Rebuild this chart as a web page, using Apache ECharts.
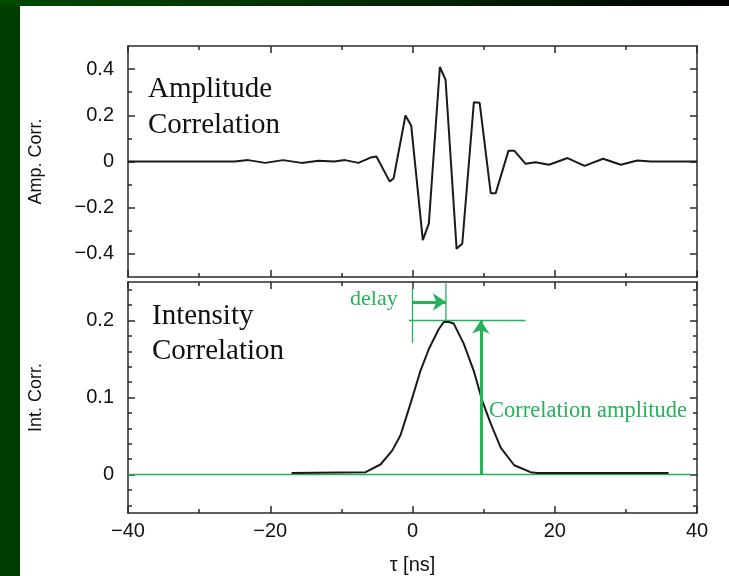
<!DOCTYPE html>
<html>
<head>
<meta charset="utf-8">
<script src="https://cdn.jsdelivr.net/npm/echarts@6/dist/echarts.min.js"></script>
<style>html,body{margin:0;padding:0;background:#fff}#c{width:729px;height:576px}</style>
</head>
<body>
<div id="c"></div>
<script>
// ---- data ----
const ampTau = [-40, -25, -23.1, -20.7, -18.2, -15.6, -13.2, -11, -9.5, -7.6, -5.9, -5.07, -3.2, -2.65, -0.99, -0.18, 1.45, 2.3, 3.85, 4.65, 6.2, 7.0, 8.63, 9.44, 11.0, 11.7, 13.5, 14.3, 15.9, 17.3, 19.2, 21.8, 24.2, 26.8, 29.3, 31.6, 33.5, 40];
const ampVal = [0, 0, 0.006, -0.006, 0.006, -0.006, 0.003, 0.0, 0.006, -0.006, 0.017, 0.022, -0.087, -0.072, 0.199, 0.155, -0.34, -0.268, 0.409, 0.353, -0.378, -0.355, 0.257, 0.254, -0.137, -0.137, 0.047, 0.047, -0.01, -0.003, -0.014, 0.015, -0.019, 0.012, -0.014, 0.004, 0, 0];
const intTau = [-17, -6.6, -4.5, -2.86, -1.69, -0.28, 1.13, 2.3, 3.7, 4.4, 5.1, 5.8, 7.2, 8.6, 9.8, 11.0, 12.4, 14.3, 16.6, 17.6, 36];
const intVal = [0.002, 0.003, 0.013, 0.031, 0.051, 0.092, 0.135, 0.163, 0.189, 0.198, 0.198, 0.196, 0.170, 0.135, 0.096, 0.066, 0.035, 0.012, 0.003, 0.002, 0.002];

// tick values
const xMajor = [-40, -20, 0, 20, 40];
const xMinor = [-30, -10, 10, 30];
const ampMajor = [-0.4, -0.2, 0, 0.2, 0.4];
const ampMinor = [-0.3, -0.1, 0.1, 0.3];
const intMajor = [0, 0.1, 0.2];
const intMinor = [-0.04, -0.02, 0.02, 0.04, 0.06, 0.08, 0.12, 0.14, 0.16, 0.18, 0.22, 0.24];

// annotation values (data units)
const delayValue = 4.7;
const delayArrowLevel = 0.224;
const corrAmplitude = 0.2;
const ampArrowTau = 9.6;

// ---- helpers ----
const GREEN = '#24b35a';
const FRAME = '#2a2a2a';
function fmt(v) { return v < 0 ? '\u2212' + Math.abs(v) : String(v); }

function axis(grid, pos, min, max, ticks, major, labelMargin, extra) {
  const a = {
    type: 'value', gridIndex: grid, position: pos, min: min, max: max,
    splitLine: { show: false },
    axisLine: { show: major, onZero: false, lineStyle: { color: FRAME, width: 1.5 } },
    axisTick: { show: true, inside: true, length: major ? 7 : 4, customValues: ticks,
                lineStyle: { color: FRAME, width: 1.5 } },
    axisLabel: labelMargin != null ? { show: true, customValues: ticks, formatter: fmt,
                fontFamily: 'Liberation Sans', fontSize: 20, color: '#111', margin: labelMargin } : { show: false },
    minorTick: { show: false }
  };
  return Object.assign(a, extra || {});
}

const nameStyle = { fontFamily: 'Liberation Sans', fontSize: 18, color: '#111' };
const xAxes = [
  axis(0, 'bottom', -40, 40, xMajor, true, null),
  axis(0, 'bottom', -40, 40, xMinor, false, null),
  axis(0, 'top', -40, 40, xMajor, true, null),
  axis(0, 'top', -40, 40, xMinor, false, null),
  axis(1, 'bottom', -40, 40, xMajor, true, 8, {
    name: '\u03c4 [ns]', nameLocation: 'middle', nameGap: 42,
    nameTextStyle: { fontFamily: 'Liberation Sans', fontSize: 20, color: '#111' } }),
  axis(1, 'bottom', -40, 40, xMinor, false, null),
  axis(1, 'top', -40, 40, xMajor, true, null),
  axis(1, 'top', -40, 40, xMinor, false, null)
];
const yAxes = [
  axis(0, 'left', -0.5, 0.5, ampMajor, true, 14, {
    name: 'Amp. Corr.', nameLocation: 'middle', nameGap: 83, nameTextStyle: nameStyle }),
  axis(0, 'left', -0.5, 0.5, ampMinor, false, null),
  axis(0, 'right', -0.5, 0.5, ampMajor, true, null),
  axis(0, 'right', -0.5, 0.5, ampMinor, false, null),
  axis(1, 'left', -0.05, 0.25, intMajor, true, 14, {
    name: 'Int. Corr.', nameLocation: 'middle', nameGap: 83, nameTextStyle: nameStyle }),
  axis(1, 'left', -0.05, 0.25, intMinor, false, null),
  axis(1, 'right', -0.05, 0.25, intMajor, true, null),
  axis(1, 'right', -0.05, 0.25, intMinor, false, null)
];

function zip(a, b) { return a.map((t, i) => [t, b[i]]); }

function greenSeg(pts, w) {
  return { type: 'line', xAxisIndex: 4, yAxisIndex: 4, data: pts, showSymbol: false, silent: true,
           lineStyle: { color: GREEN, width: w }, z: 3 };
}

const serif = (s) => s + 'px "Liberation Serif"';

const chart = echarts.init(document.getElementById('c'), null, { renderer: 'canvas' });
chart.setOption({
  animation: false,
  backgroundColor: '#ffffff',
  grid: [
    { left: 128, right: 32, top: 46, height: 231 },
    { left: 128, right: 32, top: 282, height: 231 }
  ],
  xAxis: xAxes,
  yAxis: yAxes,
  graphic: [
    { type: 'rect', shape: { x: 0, y: 0, width: 20, height: 576 }, style: { fill: '#003d00' }, silent: true },
    { type: 'rect', shape: { x: 0, y: 0, width: 729, height: 6 }, silent: true,
      style: { fill: new echarts.graphic.LinearGradient(0, 0, 1, 0, [
        { offset: 0, color: '#004a00' }, { offset: 0.5, color: '#002a00' }, { offset: 1, color: '#000000' }]) } },
    { type: 'text', style: { x: 148, y: 89, text: 'Amplitude', font: serif(29), fill: '#111', verticalAlign: 'middle' } },
    { type: 'text', style: { x: 148, y: 125, text: 'Correlation', font: serif(29), fill: '#111', verticalAlign: 'middle' } },
    { type: 'text', style: { x: 152, y: 316, text: 'Intensity', font: serif(29), fill: '#111', verticalAlign: 'middle' } },
    { type: 'text', style: { x: 152, y: 351, text: 'Correlation', font: serif(29), fill: '#111', verticalAlign: 'middle' } },
    { type: 'text', style: { x: 350, y: 299, text: 'delay', font: serif(22), fill: GREEN, verticalAlign: 'middle' } },
    { type: 'text', style: { x: 489, y: 411, text: 'Correlation amplitude', font: serif(22.5), fill: GREEN, verticalAlign: 'middle' } }
  ],
  series: [
    { type: 'line', xAxisIndex: 0, yAxisIndex: 0, data: zip(ampTau, ampVal), showSymbol: false,
      lineStyle: { color: '#1a1a1a', width: 2 }, z: 4 },
    greenSeg([[-40, 0], [39.2, 0]], 1.5),
    { type: 'line', xAxisIndex: 4, yAxisIndex: 4, data: zip(intTau, intVal), showSymbol: false,
      lineStyle: { color: '#1a1a1a', width: 2 }, z: 4 },
    greenSeg([[0, 0.243], [0, 0.171]], 1.3),
    greenSeg([[delayValue, 0.25], [delayValue, corrAmplitude]], 1.3),
    greenSeg([[-0.5, corrAmplitude], [15.9, corrAmplitude]], 1.3),
    { type: 'line', xAxisIndex: 4, yAxisIndex: 4, data: [], silent: true, z: 5,
      markLine: {
        silent: true, symbol: ['none', 'arrow'], symbolSize: 13, label: { show: false },
        lineStyle: { color: GREEN, width: 3, type: 'solid' },
        data: [
          [{ coord: [0, delayArrowLevel] }, { coord: [delayValue, delayArrowLevel] }],
          [{ coord: [ampArrowTau, 0] }, { coord: [ampArrowTau, corrAmplitude] }]
        ]
      } }
  ]
});
</script>
</body>
</html>
